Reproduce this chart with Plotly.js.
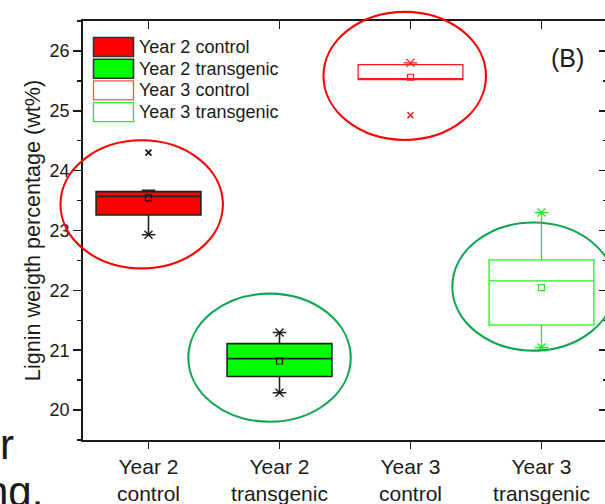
<!DOCTYPE html>
<html>
<head>
<meta charset="utf-8">
<script src="https://cdn.plot.ly/plotly-3.0.1.min.js"></script>
<style>
html,body{margin:0;padding:0;overflow:hidden;background:#fff;}
#chart{width:612px;height:504px;}
</style>
</head>
<body>
<div id="chart"></div>
<script>
// ---- data ----
const categories = ['Year 2 control', 'Year 2 transgenic', 'Year 3 control', 'Year 3 transgenic'];
const tickLabels = ['Year 2<br>control', 'Year 2<br>transgenic', 'Year 3<br>control', 'Year 3<br>transgenic'];
const xPos = [1, 2, 3, 4];
const q1Values     = [23.26, 20.56, 25.52, 21.42];
const medianValues = [23.57, 20.86, 25.52, 22.16];
const q3Values     = [23.65, 21.11, 25.77, 22.51];
const minValues    = [22.93, 20.29, 25.52, 21.045];
const maxValues    = [23.67, 21.295, 25.80, 23.30];
const meanValues   = [23.545, 20.82, 25.56, 22.045];
// extra marks: star (min/max) markers and 1%/99% "x" markers
const starX = [1, 2, 2, 3, 4, 4];
const starY = [22.93, 20.29, 21.295, 25.80, 21.045, 23.30];
const starCat = [0, 1, 1, 2, 3, 3];
const extremeX = [1, 3];
const extremeY = [24.30, 24.925];
const extremeCat = [0, 2];
const panelLabel = '(B)';
const yTitle = 'Lignin weigth percentage (wt%)';

// ---- styles ----
const FONT = 'Arial, "Liberation Sans", sans-serif';
const INK = '#1a1a1a';
const fillColors = ['#ff0000', '#00ff00', 'rgba(255,255,255,0)', 'rgba(255,255,255,0)'];
const edgeColors = ['#222222', '#222222', '#ff1a1a', '#22ee22'];
const markColors = ['#111111', '#111111', '#ff1a1a', '#22ee22'];
const edgeWidths = [1.6, 1.6, 1.3, 1.3];
const legendBorder = ['#333333', '#333333', '#ff5050', '#22ee22'];
const ellipseColors = ['#ff0000', '#10a550', '#ff0000', '#10a550'];
const X_RANGE = [0.5, 4.5];
const Y_RANGE = [19.5, 26.5];
// highlight ellipses (data units)
const ellipseCx = [0.948, 1.924, 2.956, 3.939];
const ellipseCy = [23.437, 20.875, 25.583, 22.063];
const ellipseRx = 0.62, ellipseRy = 1.07;

// plot area in pixels
const M = {l: 83, r: 5, t: 21, b: 64};
const W = 612, H = 504;
const PW = W - M.l - M.r, PH = H - M.t - M.b;
const pxX = px => (px - M.l) / PW;
const pxY = py => (H - M.b - py) / PH;
const dX = v => (v - X_RANGE[0]) / (X_RANGE[1] - X_RANGE[0]);
const dY = v => (v - Y_RANGE[0]) / (Y_RANGE[1] - Y_RANGE[0]);

const traces = [];
categories.forEach((c, i) => {
  traces.push({
    type: 'box', name: c, x: [xPos[i]],
    q1: [q1Values[i]], median: [medianValues[i]], q3: [q3Values[i]],
    lowerfence: [minValues[i]], upperfence: [maxValues[i]],
    boxmean: false, boxpoints: false, width: 0.8, whiskerwidth: 0.13,
    fillcolor: fillColors[i], line: {color: edgeColors[i], width: edgeWidths[i]},
    showlegend: false, hoverinfo: 'skip'
  });
});
// means
traces.push({
  type: 'scatter', mode: 'markers', x: xPos, y: meanValues, showlegend: false,
  marker: {symbol: 'square-open', size: 6, color: markColors, line: {width: 1.2}},
  cliponaxis: false, hoverinfo: 'skip'
});
// stars at whisker ends
const starColors = starCat.map(k => markColors[k]);
traces.push({
  type: 'scatter', mode: 'markers', x: starX, y: starY, showlegend: false,
  marker: {symbol: 'x-thin-open', size: 8, color: starColors, line: {width: 1.3}},
  cliponaxis: false, hoverinfo: 'skip'
});
// 1% / 99% markers
const extremeColors = extremeCat.map(k => markColors[k]);
traces.push({
  type: 'scatter', mode: 'markers', x: extremeX, y: extremeY, showlegend: false,
  marker: {symbol: 'x-thin-open', size: 6, color: extremeColors, line: {width: 1.6}},
  cliponaxis: false, hoverinfo: 'skip'
});
// dummy trace for the mirrored top/right axes
traces.push({type: 'scatter', x: [null], y: [null], xaxis: 'x2', yaxis: 'y2', showlegend: false, hoverinfo: 'skip'});

const shapes = [];
const annotations = [];
// ellipses
ellipseCx.forEach((cx, i) => {
  shapes.push({
    type: 'circle', xref: 'paper', yref: 'paper',
    x0: dX(cx - ellipseRx), x1: dX(cx + ellipseRx),
    y0: dY(ellipseCy[i] - ellipseRy), y1: dY(ellipseCy[i] + ellipseRy),
    line: {color: ellipseColors[i], width: 2.1}, fillcolor: 'rgba(0,0,0,0)', layer: 'above'
  });
});
// legend
categories.forEach((c, i) => {
  const top = 37.5 + i * 21.7;
  shapes.push({
    type: 'rect', xref: 'paper', yref: 'paper',
    x0: pxX(93.5), x1: pxX(133.5), y0: pxY(top + 19), y1: pxY(top),
    fillcolor: i < 2 ? fillColors[i] : '#ffffff',
    line: {color: legendBorder[i], width: i < 2 ? 1.6 : 1.3}, layer: 'above'
  });
  annotations.push({
    xref: 'paper', yref: 'paper', x: pxX(137), y: pxY(top + 9.5),
    xanchor: 'left', yanchor: 'middle', showarrow: false, text: c,
    font: {family: FONT, size: 18, color: INK}
  });
});
annotations.push({
  xref: 'paper', yref: 'paper', x: pxX(567), y: pxY(58), xanchor: 'center', yanchor: 'middle',
  showarrow: false, text: panelLabel, font: {family: FONT, size: 25, color: INK}
});
// cropped surrounding text fragments
annotations.push({
  xref: 'paper', yref: 'paper', x: pxX(16), y: pxY(444), xanchor: 'right', yanchor: 'middle',
  showarrow: false, text: 'r', font: {family: FONT, size: 42, color: INK}
});
annotations.push({
  xref: 'paper', yref: 'paper', x: pxX(45), y: pxY(491), xanchor: 'right', yanchor: 'middle',
  showarrow: false, text: 'ng.', font: {family: FONT, size: 42, color: INK}
});

const axisCommon = {
  showgrid: false, zeroline: false, showline: true, linecolor: INK, linewidth: 1.8,
  tickcolor: INK, tickwidth: 1.6, fixedrange: true
};

const layout = {
  width: W, height: H, margin: M,
  paper_bgcolor: '#ffffff', plot_bgcolor: '#ffffff',
  font: {family: FONT, color: INK},
  showlegend: false, boxmode: 'overlay',
  xaxis: Object.assign({}, axisCommon, {
    range: X_RANGE, tickmode: 'array', tickvals: xPos, ticktext: tickLabels,
    ticks: 'outside', ticklen: 7, tickfont: {family: FONT, size: 21, color: INK}
  }),
  xaxis2: Object.assign({}, axisCommon, {
    overlaying: 'x', side: 'top', range: X_RANGE, tickmode: 'array', tickvals: xPos,
    ticks: 'inside', ticklen: 8, showticklabels: false
  }),
  yaxis: Object.assign({}, axisCommon, {
    range: Y_RANGE, tick0: 20, dtick: 1, ticks: 'outside', ticklen: 8,
    minor: {ticks: 'outside', ticklen: 4, dtick: 0.5, tick0: 20, tickcolor: INK, tickwidth: 1.5},
    tickfont: {family: FONT, size: 18, color: INK},
    title: {text: yTitle, font: {family: FONT, size: 21.6, color: INK}, standoff: 3}
  }),
  yaxis2: Object.assign({}, axisCommon, {
    overlaying: 'y', side: 'right', range: Y_RANGE, tick0: 20, dtick: 1,
    ticks: 'inside', ticklen: 8, showticklabels: false,
    minor: {ticks: 'inside', ticklen: 4, dtick: 0.5, tick0: 20, tickcolor: INK, tickwidth: 1.5}
  }),
  shapes: shapes,
  annotations: annotations
};

Plotly.newPlot('chart', traces, layout, {staticPlot: true, displayModeBar: false});
</script>
</body>
</html>
